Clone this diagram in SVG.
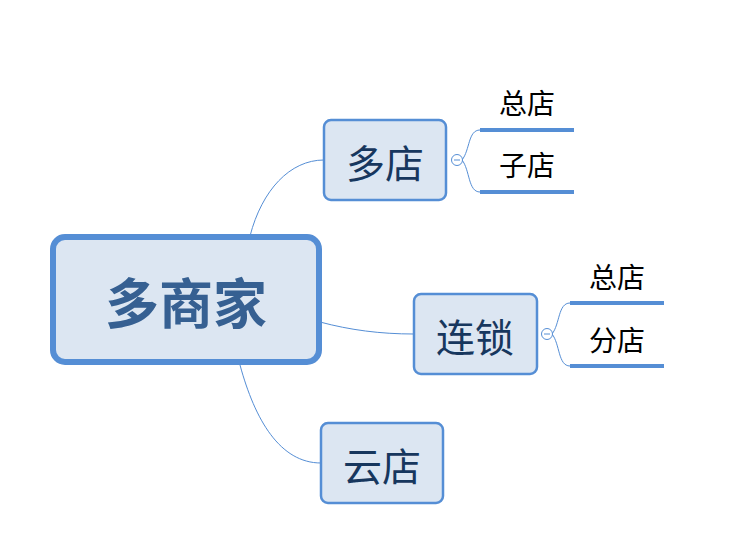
<svg xmlns="http://www.w3.org/2000/svg" width="729" height="555" viewBox="0 0 729 555">
<style>
.box{fill:#dce6f2;stroke:#558ed5;stroke-width:2.5}
.root{fill:#dce6f2;stroke:#558ed5;stroke-width:6}
.conn{fill:none;stroke:#558ed5;stroke-width:1}
.bar{stroke:#558ed5;stroke-width:4}
.t{font-family:"Noto Sans CJK SC","Liberation Sans",sans-serif;text-anchor:middle;dominant-baseline:central}
.tn{fill:#17375e;font-size:39px}
.tl{fill:#000;font-size:28px}
.col{fill:#fff;stroke:#558ed5;stroke-width:1}
</style>
<rect width="729" height="555" fill="#fff"/>
<g id="connectors">
<path class="conn" d="M250,236 C262,190 290,160 324,160"/>
<path class="conn" d="M320,322 C350,330 380,334 414,334"/>
<path class="conn" d="M240,365 C255,420 280,463 321,463"/>
<path class="conn" d="M462,160 C470,150 468,130 480,130 M462,160 C470,170 468,192 480,192"/>
<path class="conn" d="M552,334 C560,324 558,303 570,303 M552,334 C560,344 558,366 570,366"/>
</g>
<g id="root">
<rect class="root" x="53" y="237" width="266" height="125" rx="12"/>
<text class="t" x="186" y="300" font-size="54" font-weight="bold" fill="#366092">多商家</text>
</g>
<g id="duodian">
<rect class="box" x="324" y="120" width="122" height="80" rx="7"/>
<text class="t tn" x="385" y="161">多店</text>
<circle class="col" cx="457" cy="160" r="5.5"/>
<line x1="454" y1="160" x2="460" y2="160" stroke="#558ed5" stroke-width="1"/>
</g>
<g id="zongdian1">
<line class="bar" x1="480" y1="130" x2="574" y2="130"/>
<text class="t tl" x="527" y="102">总店</text>
</g>
<g id="zidian">
<line class="bar" x1="480" y1="192" x2="574" y2="192"/>
<text class="t tl" x="527" y="164">子店</text>
</g>
<g id="liansuo">
<rect class="box" x="414" y="294" width="123" height="80" rx="7"/>
<text class="t tn" x="475" y="335">连锁</text>
<circle class="col" cx="547" cy="334" r="5.5"/>
<line x1="544" y1="334" x2="550" y2="334" stroke="#558ed5" stroke-width="1"/>
</g>
<g id="zongdian2">
<line class="bar" x1="570" y1="303" x2="664" y2="303"/>
<text class="t tl" x="617" y="276">总店</text>
</g>
<g id="fendian">
<line class="bar" x1="570" y1="366" x2="664" y2="366"/>
<text class="t tl" x="617" y="339">分店</text>
</g>
<g id="yundian">
<rect class="box" x="321" y="423" width="122" height="80" rx="7"/>
<text class="t tn" x="382" y="464">云店</text>
</g>
</svg>
